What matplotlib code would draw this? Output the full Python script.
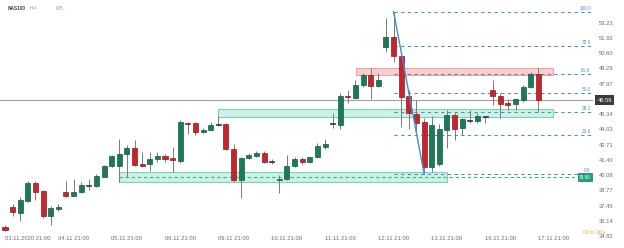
import matplotlib
matplotlib.use("Agg")
import matplotlib.pyplot as plt
import matplotlib.transforms as mtransforms
from matplotlib.patches import Rectangle

plt.rcParams["font.family"] = ["Liberation Sans", "DejaVu Sans"]

# ---------------- data ----------------
opens = [35.62, 37.37, 36.85, 37.89, 39.44, 38.70, 36.57, 37.17, 38.66, 38.32,
         38.66, 39.20, 39.18, 39.96, 40.90, 40.90, 41.91, 42.40, 41.05, 41.02,
         41.48, 41.76, 41.54, 41.33, 44.61, 44.58, 43.78, 43.98, 44.40, 44.47,
         42.34, 39.67, 41.57, 41.71, 41.97, 41.27, 39.64, 39.76, 40.88, 41.48,
         41.20, 41.63, 42.49, 44.50, 44.41, 46.91, 46.77, 47.86, 48.72, 47.80,
         51.11, 52.02, 50.36, 46.91, 45.33, 44.70, 40.82, 41.02, 43.98, 45.27,
         44.13, 44.83, 44.76, 45.13, 47.43, 46.94, 46.28, 46.22, 46.57, 47.66,
         48.81]
highs = [35.79, 37.58, 38.18, 39.61, 39.61, 38.81, 37.43, 37.58, 39.58, 39.76,
         39.47, 39.76, 40.19, 40.96, 41.82, 43.18, 42.69, 43.12, 42.11, 42.06,
         42.06, 41.91, 42.54, 44.84, 44.64, 44.70, 44.18, 44.70, 45.19, 44.61,
         42.75, 41.68, 41.97, 42.17, 42.17, 41.51, 40.07, 41.82, 41.68, 41.65,
         41.68, 42.83, 43.18, 45.42, 47.20, 47.43, 48.29, 48.87, 49.30, 48.92,
         53.61, 54.18, 50.59, 47.43, 46.57, 45.01, 45.19, 44.47, 45.70, 45.47,
         45.01, 45.70, 45.42, 45.21, 48.29, 47.14, 46.65, 46.71, 47.86, 49.00,
         49.30]
lows = [35.27, 36.57, 36.14, 37.80, 37.95, 36.37, 35.79, 37.02, 38.18, 38.29,
        38.52, 38.81, 39.09, 39.95, 40.82, 39.50, 39.95, 40.87, 40.82, 40.45,
        41.25, 41.20, 40.39, 41.11, 43.61, 43.55, 43.70, 43.89, 44.35, 42.26,
        39.52, 38.09, 41.48, 41.63, 41.11, 41.05, 38.57, 39.67, 40.82, 41.05,
        41.14, 41.54, 42.32, 44.13, 44.04, 46.33, 46.65, 47.71, 46.63, 47.71,
        50.73, 49.87, 44.26, 44.04, 43.72, 40.22, 40.39, 40.87, 42.40, 43.12,
        43.55, 44.56, 44.56, 44.56, 46.13, 45.01, 45.70, 45.70, 46.42, 47.57,
        45.56]
closes = [35.36, 36.89, 37.95, 39.44, 38.66, 36.57, 37.23, 37.37, 38.29, 38.66,
          39.24, 39.22, 40.04, 40.90, 41.76, 41.91, 42.45, 40.96, 40.90, 41.48,
          41.76, 41.48, 41.37, 44.64, 44.52, 43.78, 44.01, 44.44, 44.47, 42.34,
          39.67, 41.54, 41.80, 42.00, 41.25, 41.24, 39.78, 40.88, 41.48, 41.20,
          41.63, 42.60, 42.75, 44.56, 46.94, 46.80, 47.86, 48.72, 47.80, 48.29,
          52.02, 50.36, 46.85, 45.42, 44.61, 40.82, 44.41, 44.04, 45.27, 44.04,
          44.90, 44.77, 45.21, 45.19, 46.94, 46.22, 46.13, 46.63, 47.66, 48.81,
          46.56]

date_labels = ["03.11.2020 21:00", "04.11 21:00", "05.11 21:00", "06.11 21:00",
               "09.11 21:00", "10.11 21:00", "11.11 21:00", "12.11 21:00",
               "13.11 21:00", "16.11 21:00", "17.11 21:00"]
date_index = [0, 9, 16, 23, 30, 37, 44, 51, 58, 65, 72]

price_ticks = [53.23, 51.92, 50.60, 49.29, 47.97, 46.66, 45.34, 44.03,
               42.71, 41.40, 40.08, 38.77, 37.45, 36.14, 34.82]

fib_levels = [0.0, 23.6, 38.2, 50.0, 61.8, 78.6, 100.0]
fib_high_idx, fib_low_idx = 51, 55

# zones: (start index, end index, low price, high price)
red_zone = (46.1, 71.9, 48.69, 49.33)
green_zone_top = (28.0, 71.9, 45.10, 45.79)
green_zone_low = (15.0, 58.0, 39.50, 40.40)
support_level = 39.90
support_start = 15.0

last_price = closes[-1]

# ---------------- style ----------------
GREEN = "#1d7a59"
GREEN_EDGE = "#125c42"
RED = "#c8242b"
RED_EDGE = "#8f1a1f"
DOJI = "#333333"
WICK = "#7a7a7a"
FIB = "#4f8fcc"
TXT = "#6d6d6d"

fig = plt.figure(figsize=(6.24, 2.48), dpi=100)
ax = fig.add_axes([0, 0, 593 / 624, 1])
ax.set_facecolor("white")

x_min, x_max = -0.656, 77.17
y_min, y_max = 33.81, 55.187
ax.set_xlim(x_min, x_max)
ax.set_ylim(y_min, y_max)

# zones
def zone(z, fc, ec):
    x0, x1, lo, hi = z
    ax.add_patch(Rectangle((x0, lo), x1 - x0, hi - lo, facecolor=fc,
                           edgecolor=ec, lw=0.8, zorder=1))

zone(red_zone, "#f7cfcf", "#eba2a2")
zone(green_zone_top, "#cdf1e3", "#78d4b3")
zone(green_zone_low, "#cdf1e3", "#78d4b3")

# current price line
ax.axhline(last_price, color="#a3a3a3", lw=0.8, zorder=1.5)

# support dashed level
ax.hlines(support_level, support_start, x_max - 1.6, colors="#3fae8c",
          linestyles=(0, (3, 2.5)), lw=0.8, zorder=1.6)

# fibonacci
fh = highs[fib_high_idx]
fl = lows[fib_low_idx]
for lvl in fib_levels:
    p = fl + (fh - fl) * lvl / 100.0
    ax.hlines(p, fib_high_idx, x_max - 0.25, colors=FIB,
              linestyles=(0, (3, 3)), lw=0.8, zorder=1.7)
    ax.text(x_max - 0.3, p + 0.08, f"{lvl:.1f}", ha="right", va="bottom",
            fontsize=3.4, color=FIB, zorder=5)
ax.plot([fib_high_idx, fib_low_idx], [fh, fl], color="#3d8fd6", lw=1.0,
        zorder=4)

# candles
w = 0.66
min_h = 0.09
for i, (o, h, l, c) in enumerate(zip(opens, highs, lows, closes)):
    ax.vlines(i, l, h, colors=WICK, lw=0.7, zorder=2)
    body = abs(c - o)
    if body < 0.08:
        fc, ec = DOJI, DOJI
    elif c >= o:
        fc, ec = GREEN, GREEN_EDGE
    else:
        fc, ec = RED, RED_EDGE
    bh = max(body, min_h)
    bottom = min(o, c) if body >= min_h else (o + c) / 2 - bh / 2
    ax.add_patch(Rectangle((i - w / 2, bottom), w, bh, facecolor=fc,
                           edgecolor=ec, lw=0.5, zorder=3))

# axes styling
for s in ax.spines.values():
    s.set_visible(False)
ax.yaxis.tick_right()
ax.set_yticks(price_ticks)
ax.set_yticklabels([f"{p:.2f}" for p in price_ticks])
ax.tick_params(axis="y", length=0, pad=4, labelsize=4.2, labelcolor=TXT)

ax.set_xticks(date_index)
ax.set_xticklabels(date_labels)
ax.tick_params(axis="x", length=0, pad=-8.5, labelsize=4.2, labelcolor=TXT)
ax.get_xticklabels()[0].set_ha("left")

# right-side price boxes
trans = mtransforms.blended_transform_factory(ax.transAxes, ax.transData)
ax.text(1.0 + 4.5 / 593, last_price, f"{last_price:.2f}", transform=trans,
        ha="left", va="center", fontsize=4.2, color="white",
        bbox=dict(boxstyle="square,pad=0.4", fc="#3a3a3a", ec="none"),
        zorder=10, clip_on=False)
ax.text(x_max - 0.3, support_level, f"{support_level:.2f}", ha="right",
        va="center", fontsize=3.4, color="white",
        bbox=dict(boxstyle="square,pad=0.3", fc="#22a077", ec="#137a58",
                  lw=0.5), zorder=10)

# header and countdown
fig.text(8 / 624, 1 - 9 / 248, "NAS100", fontsize=3.4, color="#444444",
         fontweight="bold", va="center")
fig.text(30 / 624, 1 - 9 / 248, "H4 ·", fontsize=3.4, color="#9a9a9a",
         va="center")
fig.text(56 / 624, 1 - 9 / 248, "M5 ·", fontsize=3.4, color="#9a9a9a",
         va="center")
fig.text(583 / 624, 1 - 232 / 248, "00m 30s", fontsize=4.2, color="#e2b24a",
         va="center")

fig.savefig("out.png", dpi=100, facecolor="white")
